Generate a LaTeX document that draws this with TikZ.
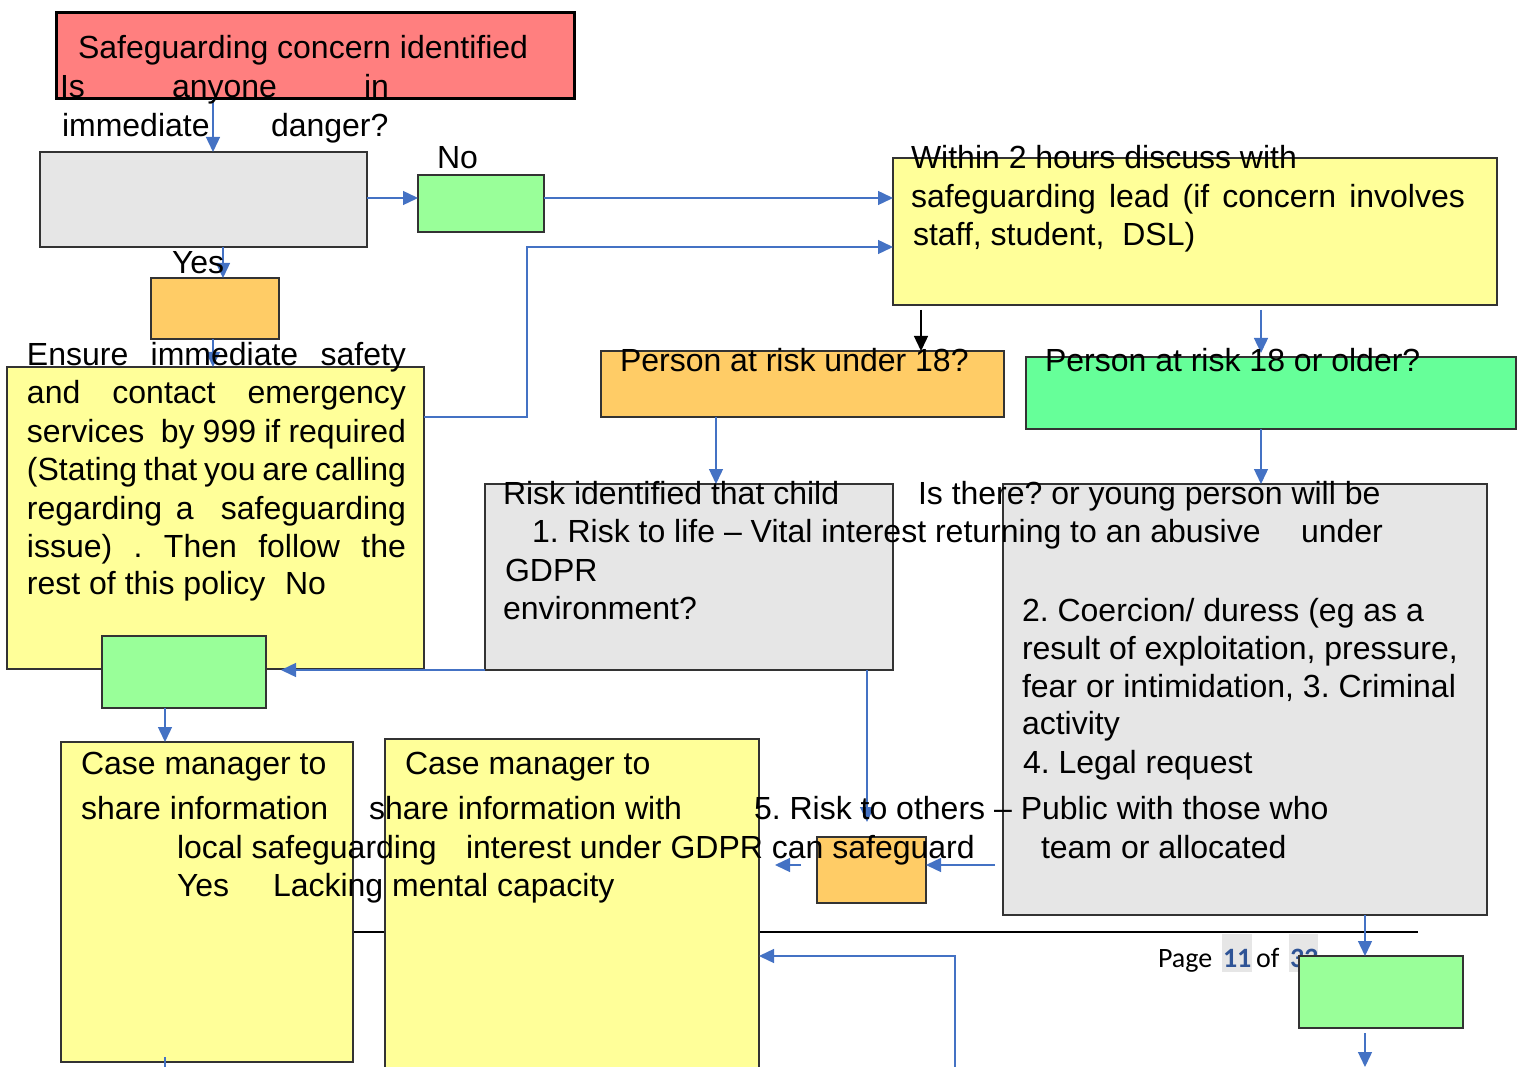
\documentclass[tikz,border=0pt]{standalone}
\usepackage{fontspec}
\setmainfont{Liberation Sans}
\newfontfamily\footfont{Carlito}
\usetikzlibrary{arrows.meta,calc}
\definecolor{redbox}{RGB}{255,127,127}
\definecolor{greyfill}{RGB}{230,230,230}
\definecolor{lgreen}{RGB}{153,255,153}
\definecolor{mgreen}{RGB}{102,255,153}
\definecolor{orng}{RGB}{255,204,102}
\definecolor{ylw}{RGB}{255,255,153}
\definecolor{conn}{RGB}{68,114,196}
\definecolor{pgblue}{RGB}{47,84,150}
\frenchspacing
\begin{document}
\begin{tikzpicture}[x=1pt,y=-1pt,
  box/.style={draw=black!80, line width=1.2pt, anchor=north west, inner sep=0pt, outer sep=0pt},
  txt/.style={anchor=base west, inner sep=0pt, outer sep=0pt, yshift=-1.5pt, font=\frenchspacing\fontsize{32}{38}\selectfont},
  foot/.style={anchor=base west, inner sep=0pt, outer sep=0pt, font=\footfont\fontsize{28}{32}\selectfont},
  link/.style={draw=conn, line width=1.4pt, -{Triangle[length=15pt,width=14pt]}},
  blink/.style={draw=black, line width=1.4pt, -{Triangle[length=15pt,width=14pt]}},
  plainlink/.style={draw=conn, line width=1.4pt},
]
\useasboundingbox (0,0) rectangle (1524,1067);
\clip (0,0) rectangle (1524,1067);

% guides
\coordinate (gx165) at (165,0);
\coordinate (gx213) at (213,0);
\coordinate (gx223) at (223,0);
\coordinate (gx527) at (527,0);
\coordinate (gx716) at (716,0);
\coordinate (gx867) at (867,0);
\coordinate (gx921) at (921,0);
\coordinate (gx955) at (955,0);
\coordinate (gx1261) at (1261,0);
\coordinate (gx1365) at (1365,0);
\coordinate (gy198) at (0,198);
\coordinate (gy247) at (0,247);
\coordinate (gy310) at (0,310);
\coordinate (gy417) at (0,417);
\coordinate (gy865) at (0,865);
\coordinate (gy956) at (0,956);

% footer
\coordinate (fl1) at (353,932);
\coordinate (fl2) at (1418,932);
\draw[line width=2pt] (fl1) -- (fl2);
\fill[greyfill] (1222,934) rectangle (1252,972);
\fill[greyfill] (1289,934) rectangle (1318,972);
\node[foot] (pg1) at (1158,967) {Page};
\node[foot, text=pgblue] (pg2) at (1223,967) {\bfseries 11};
\node[foot] (pg3) at (1256,967) {of};
\node[foot, text=pgblue] (pg4) at (1290,967) {\bfseries 33};

% boxes
\node[box, fill=redbox, line width=3pt, draw=black, minimum width=518pt, minimum height=86pt] (red) at (56,13) {};
\node[box, fill=greyfill, minimum width=327pt, minimum height=95pt] (gray1) at (40,152) {};
\node[box, fill=lgreen, minimum width=126pt, minimum height=57pt] (green1) at (418,175) {};
\node[box, fill=ylw, minimum width=604pt, minimum height=147pt] (yellow1) at (893,158) {};
\node[box, fill=orng, minimum width=128pt, minimum height=61pt] (orange1) at (151,278) {};
\node[box, fill=ylw, minimum width=417pt, minimum height=302pt] (ensure) at (7,367) {};
\node[box, fill=orng, minimum width=403pt, minimum height=66pt] (orange2) at (601,351) {};
\node[box, fill=mgreen, minimum width=490pt, minimum height=72pt] (green2) at (1026,357) {};
\node[box, fill=greyfill, minimum width=408pt, minimum height=186pt] (grayL) at (485,484) {};
\node[box, fill=greyfill, minimum width=484pt, minimum height=431pt] (grayR) at (1003,484) {};
\node[box, fill=lgreen, minimum width=164pt, minimum height=72pt] (green3) at (102,636) {};
\node[box, fill=ylw, minimum width=292pt, minimum height=320pt] (case1) at (61,742) {};
\node[box, fill=ylw, minimum width=374pt, minimum height=340pt] (case2) at (385,739) {};
\node[box, fill=orng, minimum width=109pt, minimum height=66pt] (orange3) at (817,837) {};
\node[box, fill=lgreen, minimum width=164pt, minimum height=72pt] (green4) at (1299,956) {};

% connectors
\coordinate (c11e) at (281,670);
\coordinate (c13e) at (867,822);
\coordinate (c15e) at (775,865);
\coordinate (c17e) at (1365,1067);
\coordinate (c18s) at (955,1067);
\coordinate (c19e) at (165,1067);
\draw[link] (red.south -| gx213) -- (gray1.north -| gx213);
\draw[link] (gray1.east |- gy198) -- (green1.west |- gy198);
\draw[link] (green1.east |- gy198) -- (yellow1.west |- gy198);
\draw[link] (gray1.south -| gx223) -- (orange1.north -| gx223);
\draw[link] (orange1.south -| gx213) -- (ensure.north -| gx213);
\draw[link] (ensure.east |- gy417) -- (gx527 |- gy417) -- (gx527 |- gy247) -- (yellow1.west |- gy247);
\draw[blink] (gx921 |- gy310) -- (orange2.north -| gx921);
\draw[link] (gx1261 |- gy310) -- ($(green2.north -| gx1261)+(0,-4)$);
\draw[link] (orange2.south -| gx716) -- (grayL.north -| gx716);
\draw[link] (green2.south -| gx1261) -- (grayR.north -| gx1261);
\draw[link] (grayL.south west) -- (c11e);
\draw[link] (green3.south -| gx165) -- (case1.north -| gx165);
\draw[link] (grayL.south -| gx867) -- (c13e);
\draw[link] ($(grayR.west |- gy865)+(-8,0)$) -- (orange3.east |- gy865);
\draw[link] ($(orange3.west |- gy865)+(-16,0)$) -- (c15e);
\draw[link] (grayR.south -| gx1365) -- (green4.north -| gx1365);
\draw[link] ($(green4.south -| gx1365)+(0,5)$) -- (c17e);
\draw[link] (c18s) -- (gx955 |- gy956) -- (case2.east |- gy956);
\draw[plainlink] ($(case1.south -| gx165)+(0,-5)$) -- (c19e);

% texts
\node[txt] (t1) at (78,57) {Safeguarding concern identified};
\node[txt] (t2) at (60,96) {Is};
\node[txt] (t3) at (172,96) {anyone};
\node[txt] (t4) at (364,96) {in};
\node[txt] (t5) at (62,135) {immediate};
\node[txt] (t6) at (271,135) {danger?};
\node[txt] (t7) at (437,167) {No};
\node[txt] (t8) at (172,272) {Yes};
\node[txt] (t9) at (911,167) {Within 2 hours discuss with};
\node[txt] (t10) at (911,206) {\makebox[554pt][s]{safeguarding lead (if concern involves}};
\node[txt] (t11) at (913,244) {staff, student,\ \ DSL)};
\node[txt] (t12) at (620,370) {Person at risk under 18?};
\node[txt] (t13) at (1045,370) {Person at risk 18 or older?};

\node[txt] (e1) at (27,364) {\makebox[379pt][s]{Ensure immediate safety}};
\node[txt] (e2) at (27,402) {\makebox[379pt][s]{and contact emergency}};
\node[txt] (e3) at (27,441) {\makebox[379pt][s]{services\ \ by 999 if required}};
\node[txt] (e4) at (27,479) {\makebox[379pt][s]{(Stating that you are calling}};
\node[txt] (e5) at (27,518) {\makebox[379pt][s]{regarding a\ \ safeguarding}};
\node[txt] (e6) at (27,556) {\makebox[379pt][s]{issue) . Then follow the}};
\node[txt] (e7) at (27,593) {rest of this policy};
\node[txt] (e8) at (285,593) {No};

\node[txt] (r1) at (503,503) {Risk identified that child};
\node[txt] (r2) at (918,503) {Is there? or young person will be};
\node[txt] (r3) at (532,541) {1. Risk to life – Vital interest returning to an abusive};
\node[txt] (r4) at (1301,541) {under};
\node[txt] (r5) at (505,580) {GDPR};
\node[txt] (r6) at (503,618) {environment?};

\node[txt] (s1) at (1022,620) {2. Coercion/ duress (eg as a};
\node[txt] (s2) at (1022,658) {result of exploitation, pressure,};
\node[txt] (s3) at (1022,696) {fear or intimidation, 3. Criminal};
\node[txt] (s4) at (1022,733) {activity};
\node[txt] (s5) at (1023,772) {4. Legal request};

\node[txt] (m1) at (81,773) {Case manager to};
\node[txt] (m2) at (405,773) {Case manager to};
\node[txt] (m3) at (81,818) {share information};
\node[txt] (m4) at (369,818) {share information with};
\node[txt] (m5) at (754,818) {5. Risk to others – Public with those who};
\node[txt] (m6) at (177,857) {local safeguarding};
\node[txt] (m7) at (466,857) {interest under GDPR can safeguard};
\node[txt] (m8) at (1041,857) {team or allocated};
\node[txt] (m9) at (177,895) {Yes};
\node[txt] (m10) at (273,895) {Lacking mental capacity};
\end{tikzpicture}
\end{document}
